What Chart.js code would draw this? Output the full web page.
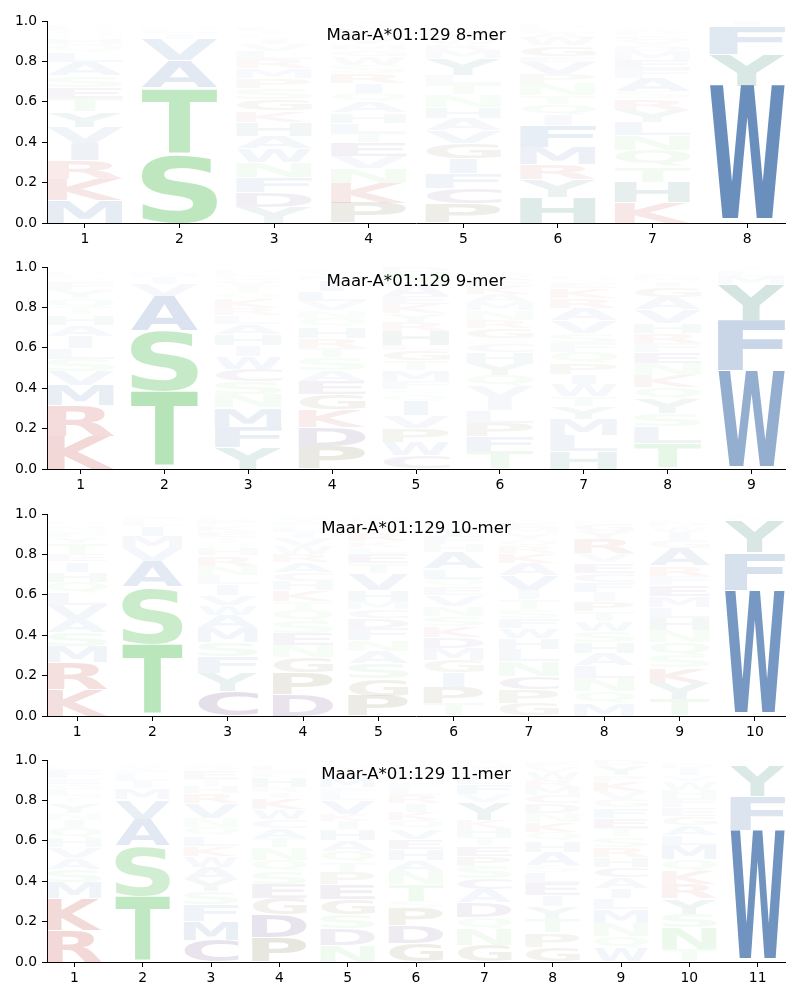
<!DOCTYPE html>
<html>
<head>
<meta charset="utf-8">
<title>Maar-A*01:129 motifs</title>
<script src="https://cdn.jsdelivr.net/npm/chart.js@4/dist/chart.umd.min.js"></script>
<style>
  body { margin: 0; background: #fff; }
  #wrap { position: relative; width: 800px; height: 1000px; }
  canvas { position: absolute; left: 0; }
</style>
</head>
<body>
<div id="wrap">
  <canvas id="logo8" width="800" height="246" style="top:0"></canvas>
  <canvas id="logo9" width="800" height="246" style="top:246px"></canvas>
  <canvas id="logo10" width="800" height="246" style="top:493px"></canvas>
  <canvas id="logo11" width="800" height="246" style="top:739px"></canvas>
</div>
<script>
// letters are listed bottom to top for every peptide position, heights line up with them
var letters8 = ['MKRIVYTESALQHNGPDFCW', 'STAVILMQCFG', 'YDFNWAHKGSPMRLVIQTEC', 'PKNVETLHAQIRSWGMYFDC',
    'PCFIGVAHNTLYMRWKESDQ', 'HYRMFIQTNPVEGWALDKSC', 'KHTQNLYRSAFEMDVGPWCI', 'WYFI'];
var heights8 = [
    [.115, .105, .09, .085, .08, .075, .07, .055, .055, .065, .05, .04, .03, .02, .015, .015, .012, .01, .01, .008],
    [.34, .33, .135, .105, .03, .02, .015, .01, .005, .005, .005],
    [.08, .075, .075, .07, .07, .063, .067, .057, .058, .053, .048, .049, .045, .04, .034, .028, .022, .02, .016, .01],
    [.10, .097, .073, .06, .067, .05, .05, .05, .054, .042, .05, .05, .04, .045, .03, .03, .03, .025, .025, .02],
    [.096, .075, .075, .074, .077, .063, .06, .055, .06, .055, .045, .08, .04, .03, .03, .025, .015, .015, .01, .008],
    [.13, .088, .073, .087, .105, .055, .05, .045, .06, .045, .06, .03, .05, .04, .025, .02, .015, .01, .01, .005],
    [.102, .10, .08, .08, .073, .066, .06, .055, .035, .065, .045, .045, .045, .03, .025, .025, .02, .015, .012, .01],
    [.68, .155, .14, .025]
];

var letters9 = ['KRMVSLIAHTQYFNEDGCWP', 'TSAVIMLFQC', 'YFMNSCWIHALRKQTVGEDP', 'PDKGEASTRHQNVLIMYFWC',
    'CWPVIQSFMTGLHRYKEAND', 'TFPLIVQYHCSGRNMAKEWD', 'HLMYTWIPQFSVARKENDCG', 'TLSYQKNEFRHVAGIMPDCW', 'WFYMLI'];
var heights9 = [
    [.165, .15, .10, .07, .06, .055, .06, .055, .05, .035, .045, .04, .04, .02, .015, .012, .01, .008, .005, .005],
    [.385, .30, .17, .06, .035, .02, .01, .008, .005, .004],
    [.11, .10, .095, .065, .065, .06, .065, .055, .055, .05, .04, .035, .045, .03, .035, .03, .02, .015, .012, .012],
    [.115, .095, .085, .075, .065, .055, .06, .05, .05, .055, .045, .035, .045, .05, .055, .02, .02, .015, .006, .004],
    [.065, .07, .07, .06, .07, .035, .025, .04, .055, .05, .05, .025, .07, .045, .04, .045, .04, .06, .06, .025],
    [.09, .075, .065, .06, .06, .06, .055, .06, .055, .04, .03, .05, .04, .045, .04, .04, .04, .035, .02, .015],
    [.09, .08, .08, .06, .05, .06, .05, .055, .055, .045, .05, .06, .06, .05, .05, .025, .02, .015, .01, .01],
    [.13, .08, .065, .07, .06, .06, .06, .055, .045, .05, .05, .065, .06, .05, .03, .02, .015, .01, .005, .005],
    [.49, .25, .175, .04, .03, .015]
];

var letters10 = ['KRMSAVLQHIETYFNDPCWG', 'TSAVMILFQC', 'CYFSMAWVILNRHQTEKPDG', 'DPGNESQTKHCARWVILFYM',
    'PGSANFDCMHVTELKRQIWY', 'TPIGMDKSNVEQLAHFYRWC', 'GPCNLHWFSTIVAKRQYMED', 'MQNLAHSWTPIFCEVRYGKD', 'TYKSQNHLMEFRAGIWDCVP', 'WFYML'];
var heights10 = [
    [.135, .13, .08, .07, .065, .07, .06, .055, .05, .05, .035, .055, .03, .03, .03, .015, .01, .005, .005, .005],
    [.36, .28, .125, .065, .06, .05, .025, .02, .008, .005],
    [.125, .09, .08, .07, .07, .065, .05, .05, .055, .045, .045, .05, .035, .025, .03, .03, .03, .025, .015, .01],
    [.11, .105, .075, .06, .06, .06, .055, .045, .055, .045, .04, .05, .04, .04, .04, .03, .03, .02, .02, .015],
    [.10, .085, .075, .06, .055, .06, .05, .045, .04, .055, .08, .05, .05, .03, .03, .04, .03, .025, .02, .015],
    [.065, .08, .07, .06, .06, .055, .055, .05, .05, .055, .04, .04, .05, .08, .04, .04, .05, .015, .01, .005],
    [.065, .07, .065, .07, .06, .055, .05, .05, .045, .05, .045, .07, .06, .05, .035, .035, .03, .025, .025, .015],
    [.065, .06, .065, .06, .06, .055, .055, .05, .05, .05, .045, .05, .045, .05, .045, .07, .04, .035, .015, .01],
    [.085, .08, .075, .06, .065, .06, .06, .055, .055, .055, .045, .05, .085, .04, .04, .03, .02, .015, .01, .005],
    [.625, .185, .16, .015, .015]
];

var letters11 = ['RKMSAVHQINYTLGEFDCPW', 'TSAVMILFYQGC', 'CMFSYAWKLQNVRHTEPGID', 'PDGESQNTACWKIRHFLVYM',
    'NDSGEPTQAHIKVLFMRYCW', 'GDPSTNAHEVQKIRLFMYCW', 'GNQDACSPETHKYVFLIMRW', 'GPTYIELSAHQKNDCMRWVF', 'WQNMLIACHRSTEFGVKPYD', 'TNSYRKQMLAGEFHWVIDPC', 'WFYLM'];
var heights11 = [
    [.16, .155, .08, .065, .055, .055, .045, .05, .04, .035, .05, .03, .035, .025, .03, .04, .015, .01, .005, .005],
    [.33, .245, .135, .095, .055, .035, .035, .02, .02, .015, .01, .005],
    [.11, .095, .08, .065, .06, .06, .055, .05, .05, .045, .045, .07, .05, .035, .035, .04, .02, .015, .01, .005],
    [.125, .11, .08, .07, .065, .055, .06, .05, .05, .04, .05, .055, .03, .025, .05, .03, .025, .015, .01, .01],
    [.085, .08, .07, .075, .075, .06, .05, .055, .055, .055, .04, .035, .065, .035, .03, .05, .03, .02, .015, .01],
    [.095, .085, .085, .035, .085, .065, .055, .055, .05, .05, .045, .04, .04, .04, .035, .03, .03, .03, .015, .015],
    [.085, .08, .06, .07, .065, .055, .06, .05, .05, .045, .045, .04, .085, .04, .05, .04, .03, .03, .02, .01],
    [.075, .07, .07, .06, .055, .06, .055, .035, .065, .055, .045, .05, .045, .045, .04, .04, .035, .04, .025, .025],
    [.07, .06, .065, .065, .055, .05, .055, .05, .05, .05, .05, .045, .05, .05, .04, .04, .05, .03, .05, .03],
    [.065, .105, .07, .075, .07, .065, .06, .07, .05, .05, .045, .04, .045, .04, .045, .03, .035, .02, .012, .008],
    [.655, .165, .15, .015, .015]
];

// colour of each residue group
var letterColors = {
    A: '36,90,158', F: '36,90,158', I: '36,90,158', L: '36,90,158', M: '36,90,158', V: '36,90,158', W: '36,90,158',
    H: '10,100,87', Y: '10,100,87',
    N: '65,185,70', Q: '65,185,70', S: '65,185,70', T: '65,185,70',
    K: '174,18,12', R: '174,18,12',
    C: '46,0,83', D: '46,0,83', E: '46,0,83',
    G: '72,63,0', P: '72,63,0'
};
var glyphFont = 'bold 100px "DejaVu Sans"';

// taller letters are stronger, the short ones nearly fade out
function letterAlpha(value) {
    return Math.min(1, value * Math.min(1, 0.5 + 5 * value));
}

// bars are invisible, this paints each one as a letter stretched to fill it
var letterPlugin = {
    id: 'letterPlugin',
    afterDatasetsDraw: function(chart) {
        var ctx = chart.ctx;
        var letters = chart.options.plugins.letterPlugin.letters;
        var area = chart.chartArea;
        ctx.save();
        ctx.beginPath();
        ctx.rect(area.left, area.top, area.width, area.height + 1);
        ctx.clip();
        chart.data.datasets.forEach(function(ds, d) {
            chart.getDatasetMeta(d).data.forEach(function(bar, i) {
                var letter = letters[i][d];
                var value = ds.data[i].y;
                if (!letter || !value) return;
                var box = bar.getProps(['x', 'y', 'base', 'width'], true);
                var h = box.base - box.y;
                var w = box.width;
                var bottom = box.base;
                // these two sit a little above the slot floor in the original
                if (letter === 'T') { bottom -= h * 0.04; h = h * 0.96; }
                if (letter === 'W') { bottom -= h * 0.03; h = h * 0.97; }
                if (letter === 'I') w = w * 0.36;

                ctx.font = glyphFont;
                var m = ctx.measureText(letter);
                var gw = m.actualBoundingBoxLeft + m.actualBoundingBoxRight;
                var gh = m.actualBoundingBoxAscent + m.actualBoundingBoxDescent;
                ctx.save();
                ctx.translate(box.x - w / 2, bottom);
                ctx.scale(w / gw, (h - 0.6) / gh);
                ctx.fillStyle = 'rgba(' + letterColors[letter] + ',' + letterAlpha(value) + ')';
                ctx.textBaseline = 'alphabetic';
                ctx.fillText(letter, m.actualBoundingBoxLeft, -m.actualBoundingBoxDescent);
                ctx.restore();
            });
        });
        ctx.restore();
    }
};

var titlePlugin = {
    id: 'titlePlugin',
    afterDraw: function(chart) {
        var ctx = chart.ctx;
        var area = chart.chartArea;
        ctx.save();
        ctx.font = '16.6px "DejaVu Sans"';
        ctx.fillStyle = '#000';
        ctx.textAlign = 'center';
        ctx.textBaseline = 'middle';
        ctx.fillText(chart.options.plugins.titlePlugin.text, (area.left + area.right) / 2, area.top + 15);
        ctx.restore();
    }
};

function drawLogo(id, title, letters, heights) {
    var layers = 0;
    letters.forEach(function(l) { layers = Math.max(layers, l.length); });

    var datasets = [];
    for (var d = 0; d < layers; d++) {
        datasets.push({
            data: heights.map(function(row, i) { return { x: i + 1, y: row[d] || 0 }; }),
            backgroundColor: 'transparent',
            barPercentage: 0.8,
            categoryPercentage: 1
        });
    }

    new Chart(document.getElementById(id), {
        type: 'bar',
        data: { datasets: datasets },
        plugins: [letterPlugin, titlePlugin],
        options: {
            responsive: false,
            animation: false,
            layout: { padding: { top: 21, right: 15, left: 0, bottom: 0 } },
            plugins: {
                legend: { display: false },
                tooltip: { enabled: false },
                letterPlugin: { letters: letters },
                titlePlugin: { text: title }
            },
            scales: {
                x: {
                    type: 'linear',
                    stacked: true,
                    offset: false,
                    min: 0.6,
                    max: letters.length + 0.4,
                    afterFit: function(scale) { scale.height = 23; },
                    grid: { offset: false, drawOnChartArea: false, tickLength: 5, tickColor: '#000' },
                    border: { color: '#000', width: 1 },
                    ticks: {
                        stepSize: 1,
                        includeBounds: false,
                        maxRotation: 0,
                        color: '#000',
                        padding: 3,
                        font: { family: 'DejaVu Sans', size: 13.9 }
                    }
                },
                y: {
                    stacked: true,
                    min: 0,
                    max: 1,
                    afterFit: function(scale) { scale.width = 47; },
                    grid: { drawOnChartArea: false, tickLength: 5, tickColor: '#000' },
                    border: { color: '#000', width: 1 },
                    ticks: {
                        stepSize: 0.2,
                        color: '#000',
                        padding: 5,
                        font: { family: 'DejaVu Sans', size: 13.9 },
                        callback: function(v) { return v.toFixed(1); }
                    }
                }
            }
        }
    });
}

drawLogo('logo8', 'Maar-A*01:129 8-mer', letters8, heights8);
drawLogo('logo9', 'Maar-A*01:129 9-mer', letters9, heights9);
drawLogo('logo10', 'Maar-A*01:129 10-mer', letters10, heights10);
drawLogo('logo11', 'Maar-A*01:129 11-mer', letters11, heights11);
</script>
</body>
</html>
